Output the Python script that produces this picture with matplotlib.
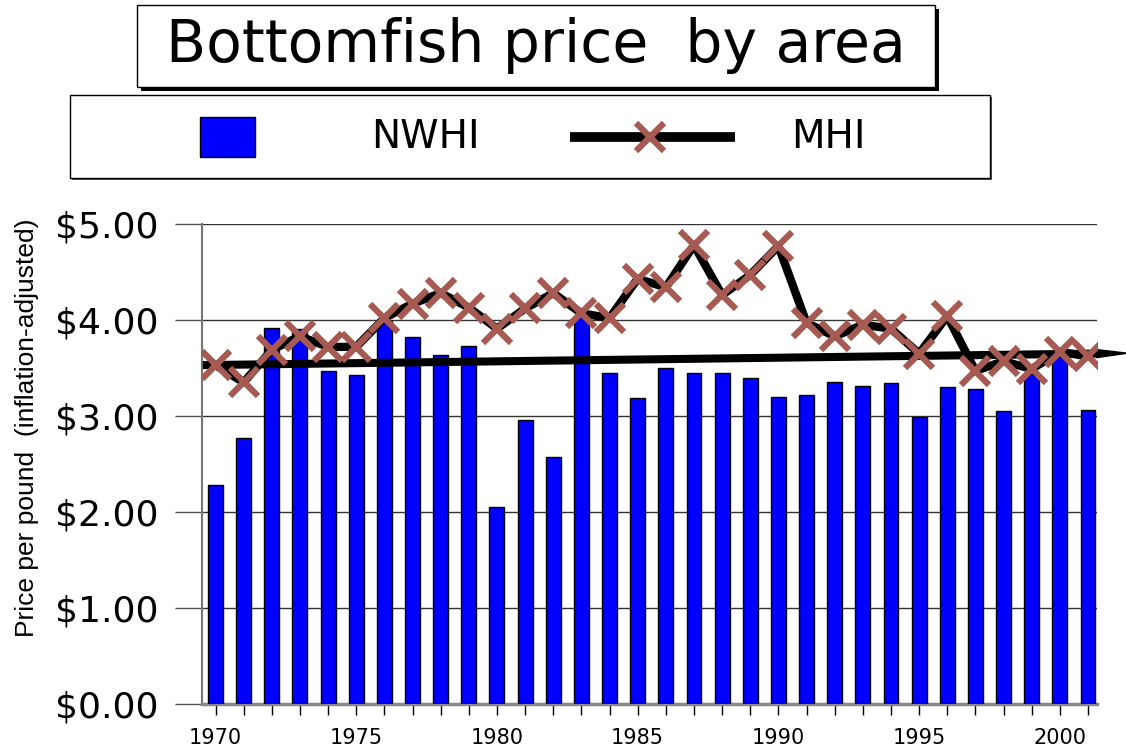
import matplotlib
matplotlib.use('Agg')
import matplotlib.pyplot as plt
from matplotlib.patches import Rectangle, Polygon
from matplotlib.lines import Line2D
import numpy as np

plt.rcParams['font.family'] = ['DejaVu Sans']

years = list(range(1970, 2002))
nwhi = [2.28, 2.77, 3.92, 3.91, 3.47, 3.43, 3.99, 3.82, 3.64, 3.73,
        2.05, 2.96, 2.57, 4.03, 3.45, 3.19, 3.50, 3.45, 3.45, 3.40,
        3.20, 3.22, 3.35, 3.31, 3.34, 2.99, 3.30, 3.28, 3.05, 3.44,
        3.61, 3.06]
mhi = [3.53, 3.35, 3.69, 3.83, 3.72, 3.72, 4.02, 4.17, 4.28, 4.13,
       3.91, 4.12, 4.28, 4.07, 4.02, 4.43, 4.34, 4.78, 4.26, 4.47,
       4.77, 3.97, 3.83, 3.95, 3.91, 3.65, 4.04, 3.47, 3.57, 3.49,
       3.67, 3.62]
trend_x = [1969.55, 2001.3]
trend_y = [3.53, 3.65]
ytick_vals = [0, 1, 2, 3, 4, 5]
ytick_labels = ['$0.00', '$1.00', '$2.00', '$3.00', '$4.00', '$5.00']

W, H = 1126, 747
fig = plt.figure(figsize=(W / 100, H / 100), dpi=100)

def fx(px):
    return px / W

def fy(py):
    return 1 - py / H

ax = fig.add_axes([fx(202), fy(704), fx(1097) - fx(202), fy(224) - fy(704)])

ax.bar(years, nwhi, width=0.53, color='#0000FF', edgecolor='black', linewidth=1, zorder=3)

# trend line, pointed tip past the axis end
ax.plot(trend_x, trend_y, color='black', lw=5.8, solid_capstyle='butt', zorder=4, clip_on=False)
slope = (trend_y[1] - trend_y[0]) / (trend_x[1] - trend_x[0])
tip_x = trend_x[1] + 1.1
ax.add_patch(Polygon([[trend_x[1], trend_y[1] + 0.042], [tip_x, trend_y[1] + slope * 1.1],
                      [trend_x[1], trend_y[1] - 0.042]], closed=True, color='black',
                     clip_on=False, zorder=4))

ax.plot(years, mhi, color='black', lw=6, zorder=5)
ax.plot(years, mhi, ls='none', marker='x', ms=20, mew=4.5, color='#A65A52', zorder=6)

ax.set_xlim(1969.52, 2001.32)
ax.set_ylim(0, 5)
ax.set_yticks(ytick_vals)
ax.set_yticklabels(ytick_labels, fontsize=26)
ax.yaxis.grid(True, color='#333333', lw=1, zorder=0)
ax.tick_params(axis='y', length=19.5, width=1, color='#555555', pad=12)

ax.set_xticks(years)
ax.set_xticklabels([str(y) if y % 5 == 0 else '' for y in years], fontsize=15)
ax.tick_params(axis='x', length=8, width=1, color='black', pad=9)

for s in ['top', 'right']:
    ax.spines[s].set_visible(False)
ax.spines['left'].set_color('#777777')
ax.spines['left'].set_linewidth(1.5)
ax.spines['bottom'].set_color('#888888')
ax.spines['bottom'].set_linewidth(2.5)

# y axis title
fig.text(fx(27), fy(428), 'Price per pound  (inflation-adjusted)', fontsize=19,
         family=['Liberation Sans Narrow', 'Liberation Sans'],
         rotation=90, ha='center', va='center')

# title box with shadow
fig.add_artist(Rectangle((fx(141), fy(91)), fx(935) - fx(137), fy(5) - fy(87),
                         transform=fig.transFigure, facecolor='black', edgecolor='none'))
fig.add_artist(Rectangle((fx(137), fy(87)), fx(935) - fx(137), fy(5) - fy(87),
                         transform=fig.transFigure, facecolor='white', edgecolor='black', lw=1))
fig.text(fx(536), fy(46), 'Bottomfish price  by area', fontsize=42,
         ha='center', va='center')

# legend box
fig.add_artist(Rectangle((fx(72), fy(180)), fx(990) - fx(70), fy(95) - fy(178),
                         transform=fig.transFigure, facecolor='#555555', edgecolor='none'))
fig.add_artist(Rectangle((fx(70), fy(178)), fx(990) - fx(70), fy(95) - fy(178),
                         transform=fig.transFigure, facecolor='white', edgecolor='black', lw=1))
fig.add_artist(Rectangle((fx(200), fy(157)), fx(255) - fx(200), fy(117) - fy(157),
                         transform=fig.transFigure, facecolor='#0000FF', edgecolor='black', lw=1))
fig.text(fx(425), fy(137), 'NWHI', fontsize=28, ha='center', va='center')
fig.add_artist(Line2D([fx(570), fx(735)], [fy(137), fy(137)], transform=fig.transFigure,
                      color='black', lw=7, solid_capstyle='butt'))
fig.add_artist(Line2D([fx(650)], [fy(137)], transform=fig.transFigure, ls='none',
                      marker='x', ms=20, mew=4.5, color='#A65A52'))
fig.text(fx(828), fy(137), 'MHI', fontsize=28, ha='center', va='center')

fig.savefig('out.png', dpi=100)
